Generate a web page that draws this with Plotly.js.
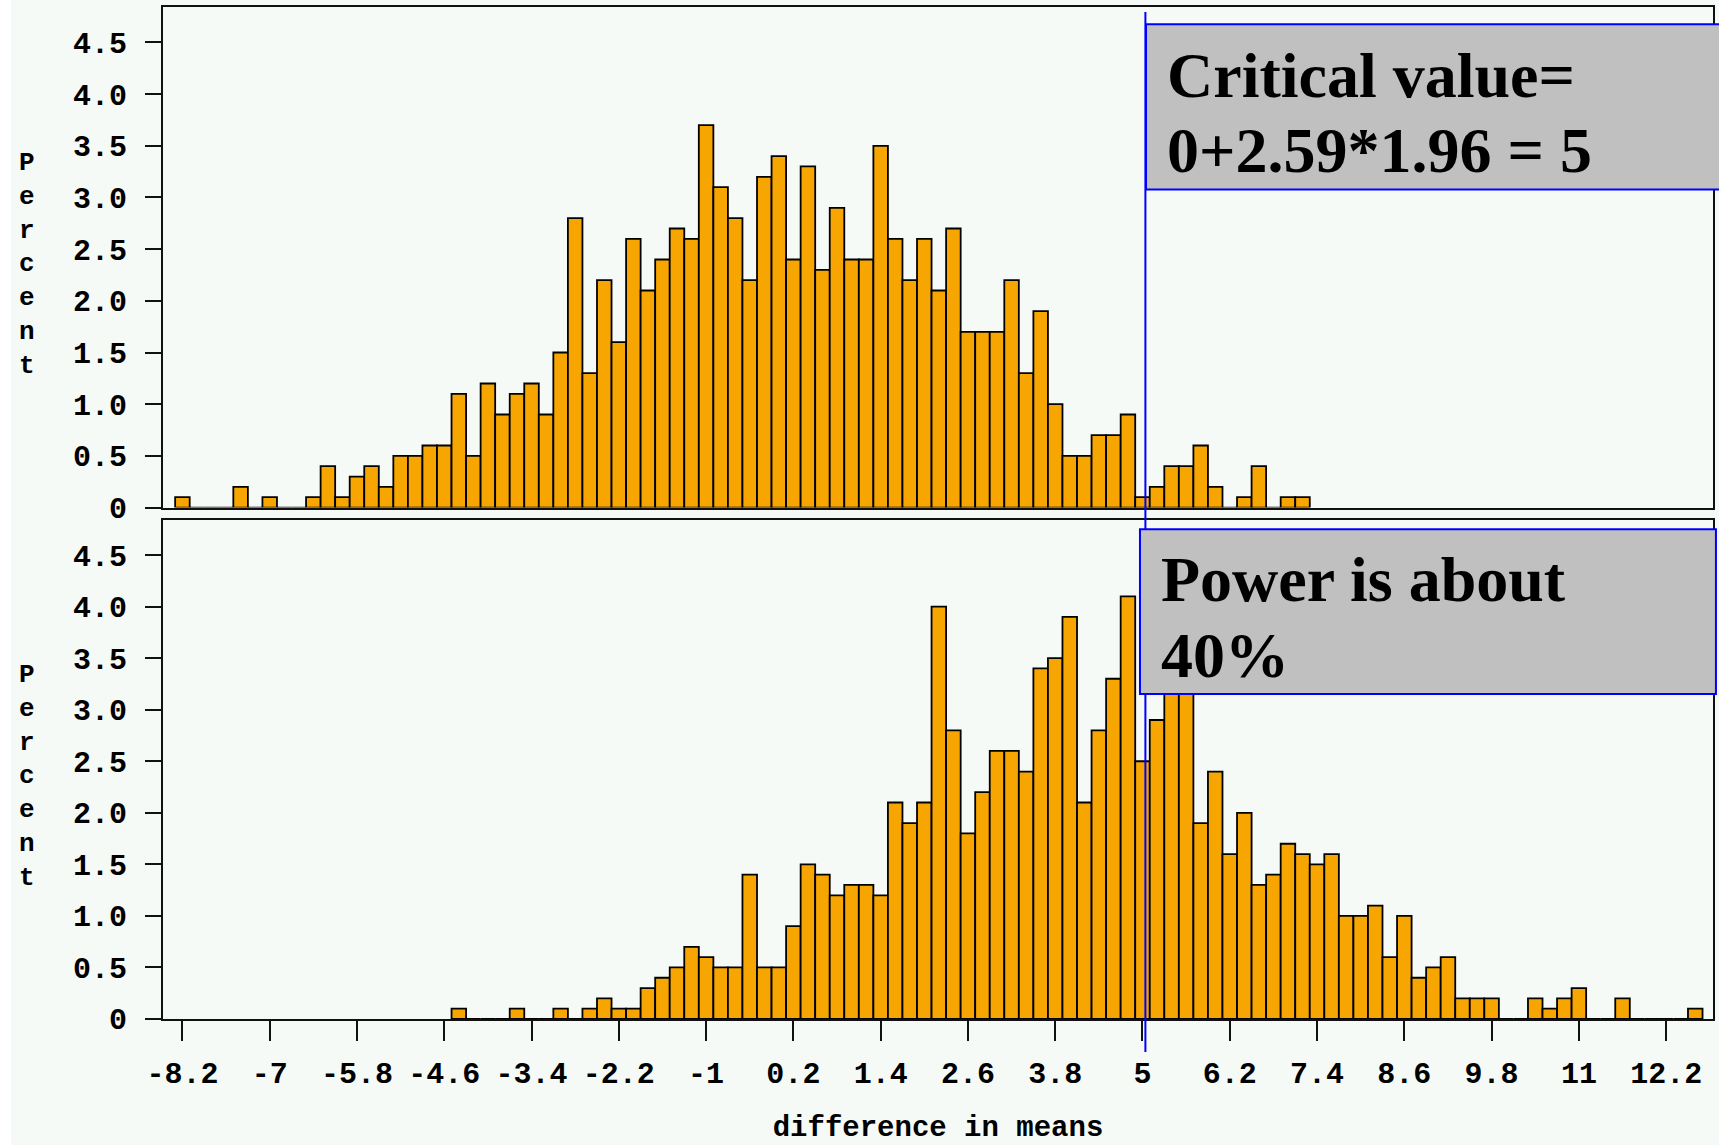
<!DOCTYPE html>
<html>
<head>
<meta charset="utf-8">
<script src="https://cdn.plot.ly/plotly-3.0.1.min.js"></script>
<style>
html, body { margin: 0; padding: 0; background: #F5FAF7; }
#chart { width: 1719px; height: 1145px; }
</style>
</head>
<body>
<div id="chart"></div>
<script>
// ---- Data (bin midpoints and percents) ----
const topMidpoints = [
  -8.2, -8.0, -7.8, -7.6, -7.4, -7.2, -7.0, -6.8, -6.6, -6.4,
  -6.2, -6.0, -5.8, -5.6, -5.4, -5.2, -5.0, -4.8, -4.6, -4.4,
  -4.2, -4.0, -3.8, -3.6, -3.4, -3.2, -3.0, -2.8, -2.6, -2.4,
  -2.2, -2.0, -1.8, -1.6, -1.4, -1.2, -1.0, -0.8, -0.6, -0.4,
  -0.2, 0.0, 0.2, 0.4, 0.6, 0.8, 1.0, 1.2, 1.4, 1.6,
  1.8, 2.0, 2.2, 2.4, 2.6, 2.8, 3.0, 3.2, 3.4, 3.6,
  3.8, 4.0, 4.2, 4.4, 4.6, 4.8, 5.0, 5.2, 5.4, 5.6,
  5.8, 6.0, 6.2, 6.4, 6.6, 6.8, 7.0, 7.2
];
const topPercent = [
  0.1, 0, 0, 0, 0.2, 0, 0.1, 0, 0, 0.1,
  0.4, 0.1, 0.3, 0.4, 0.2, 0.5, 0.5, 0.6, 0.6, 1.1,
  0.5, 1.2, 0.9, 1.1, 1.2, 0.9, 1.5, 2.8, 1.3, 2.2,
  1.6, 2.6, 2.1, 2.4, 2.7, 2.6, 3.7, 3.1, 2.8, 2.2,
  3.2, 3.4, 2.4, 3.3, 2.3, 2.9, 2.4, 2.4, 3.5, 2.6,
  2.2, 2.6, 2.1, 2.7, 1.7, 1.7, 1.7, 2.2, 1.3, 1.9,
  1.0, 0.5, 0.5, 0.7, 0.7, 0.9, 0.1, 0.2, 0.4, 0.4,
  0.6, 0.2, 0, 0.1, 0.4, 0, 0.1, 0.1
];
const bottomMidpoints = [
  -4.4, -4.2, -4.0, -3.8, -3.6, -3.4, -3.2, -3.0, -2.8, -2.6,
  -2.4, -2.2, -2.0, -1.8, -1.6, -1.4, -1.2, -1.0, -0.8, -0.6,
  -0.4, -0.2, 0.0, 0.2, 0.4, 0.6, 0.8, 1.0, 1.2, 1.4,
  1.6, 1.8, 2.0, 2.2, 2.4, 2.6, 2.8, 3.0, 3.2, 3.4,
  3.6, 3.8, 4.0, 4.2, 4.4, 4.6, 4.8, 5.0, 5.2, 5.4,
  5.6, 5.8, 6.0, 6.2, 6.4, 6.6, 6.8, 7.0, 7.2, 7.4,
  7.6, 7.8, 8.0, 8.2, 8.4, 8.6, 8.8, 9.0, 9.2, 9.4,
  9.6, 9.8, 10.0, 10.2, 10.4, 10.6, 10.8, 11.0, 11.2, 11.4,
  11.6, 11.8, 12.0, 12.2, 12.4, 12.6
];
const bottomPercent = [
  0.1, 0, 0, 0, 0.1, 0, 0, 0.1, 0, 0.1,
  0.2, 0.1, 0.1, 0.3, 0.4, 0.5, 0.7, 0.6, 0.5, 0.5,
  1.4, 0.5, 0.5, 0.9, 1.5, 1.4, 1.2, 1.3, 1.3, 1.2,
  2.1, 1.9, 2.1, 4.0, 2.8, 1.8, 2.2, 2.6, 2.6, 2.4,
  3.4, 3.5, 3.9, 2.1, 2.8, 3.3, 4.1, 2.5, 2.9, 3.3,
  3.3, 1.9, 2.4, 1.6, 2.0, 1.3, 1.4, 1.7, 1.6, 1.5,
  1.6, 1.0, 1.0, 1.1, 0.6, 1.0, 0.4, 0.5, 0.6, 0.2,
  0.2, 0.2, 0, 0, 0.2, 0.1, 0.2, 0.3, 0, 0,
  0.2, 0, 0, 0, 0, 0.1
];
const xTickVals = [-8.2, -7, -5.8, -4.6, -3.4, -2.2, -1, 0.2, 1.4, 2.6, 3.8, 5, 6.2, 7.4, 8.6, 9.8, 11, 12.2];
const xTickText = ["-8.2", "-7", "-5.8", "-4.6", "-3.4", "-2.2", "-1", "0.2", "1.4", "2.6", "3.8", "5", "6.2", "7.4", "8.6", "9.8", "11", "12.2"];
const yTickVals = [0, 0.5, 1.0, 1.5, 2.0, 2.5, 3.0, 3.5, 4.0, 4.5];
const yTickText = ["0", "0.5", "1.0", "1.5", "2.0", "2.5", "3.0", "3.5", "4.0", "4.5"];
const criticalValue = 5.04;
const xTitle = "difference in means";
const yTitle = "Percent";
const topBoxLines = ["Critical value=", "0+2.59*1.96 = 5"];
const bottomBoxLines = ["Power is about", "40%"];

// ---- Styling ----
const BG = "#F5FAF7";
const BAR = "#F7A500";
const INK = "#111111";
const MONO = '"Liberation Mono", "DejaVu Sans Mono", monospace';
const SERIF = '"Liberation Serif", "Times New Roman", serif';
const XRANGE = [-8.467, 12.844];
const YRANGE = [0, 4.843];

const tickFont = { family: MONO, size: 30, color: "#000", weight: "bold" };

const barStyle = { color: BAR, line: { color: "#000", width: 1.8 } };

const traces = [
  { type: "bar", x: topMidpoints, y: topPercent, width: 0.2, xaxis: "x", yaxis: "y",
    marker: barStyle, hoverinfo: "skip" },
  { type: "bar", x: bottomMidpoints, y: bottomPercent, width: 0.2, xaxis: "x2", yaxis: "y2",
    marker: barStyle, hoverinfo: "skip" }
];

const yAxisCommon = {
  range: YRANGE, tickvals: yTickVals, ticktext: yTickText,
  ticks: "outside", ticklen: 16, tickwidth: 2, tickcolor: INK,
  showline: true, mirror: true, linecolor: INK, linewidth: 2,
  showgrid: false, zeroline: false, tickfont: tickFont, ticklabelstandoff: 12,
  fixedrange: true
};
const xAxisCommon = {
  range: XRANGE, showline: true, mirror: true, linecolor: INK, linewidth: 2,
  showgrid: false, zeroline: false, fixedrange: true
};

function letters(s) { return s.split("").join("<br>"); }

const layout = {
  width: 1719, height: 1145,
  margin: { l: 163, r: 6, t: 7, b: 126, pad: 0 },
  paper_bgcolor: BG, plot_bgcolor: BG,
  showlegend: false,
  bargap: 0,
  font: { family: MONO, size: 28, color: "#000" },
  xaxis: Object.assign({}, xAxisCommon, { anchor: "y", showticklabels: false, ticks: "" }),
  yaxis: Object.assign({}, yAxisCommon, { domain: [0.5054, 1], anchor: "x" }),
  xaxis2: Object.assign({}, xAxisCommon, {
    anchor: "y2", tickvals: xTickVals, ticktext: xTickText,
    ticks: "outside", ticklen: 20, tickwidth: 2, tickcolor: INK,
    tickfont: tickFont, ticklabelstandoff: 6,
    title: { text: xTitle, font: { family: MONO, size: 29, color: "#000", weight: "bold" }, standoff: 32 }
  }),
  yaxis2: Object.assign({}, yAxisCommon, { domain: [0, 0.4934], anchor: "x2" }),
  shapes: [
    { type: "rect", xref: "paper", yref: "paper", x0: -0.11, x1: -0.0981, y0: -0.13, y1: 1.01,
      fillcolor: "#FFFFFF", line: { width: 0 }, layer: "below" },
    { type: "line", xref: "x2", yref: "paper", x0: criticalValue, x1: criticalValue,
      y0: -0.0326, y1: 0.9951, line: { color: "#0000FF", width: 2 } },
    { type: "rect", xref: "paper", yref: "paper", x0: 0.6342, x1: 1.01, y0: 0.8197, y1: 0.9829,
      fillcolor: "#C0C0C0", line: { color: "#0000FF", width: 2 } },
    { type: "rect", xref: "paper", yref: "paper", x0: 0.6303, x1: 1.0019, y0: 0.3211, y1: 0.4839,
      fillcolor: "#C0C0C0", line: { color: "#0000FF", width: 2 } }
  ],
  annotations: [
    { text: letters(yTitle), xref: "paper", yref: "paper", x: -0.0877, y: 0.7453,
      xanchor: "center", yanchor: "middle", showarrow: false,
      font: { family: MONO, size: 26, color: "#000", weight: "bold" } },
    { text: letters(yTitle), xref: "paper", yref: "paper", x: -0.0877, y: 0.2399,
      xanchor: "center", yanchor: "middle", showarrow: false,
      font: { family: MONO, size: 26, color: "#000", weight: "bold" } },
    { text: topBoxLines[0], xref: "paper", yref: "paper", x: 0.6465, y: 0.9327,
      xanchor: "left", yanchor: "middle", showarrow: false,
      font: { family: SERIF, size: 64, color: "#000", weight: "bold" } },
    { text: topBoxLines[1], xref: "paper", yref: "paper", x: 0.6465, y: 0.8586,
      xanchor: "left", yanchor: "middle", showarrow: false,
      font: { family: SERIF, size: 64, color: "#000", weight: "bold" } },
    { text: bottomBoxLines[0], xref: "paper", yref: "paper", x: 0.6426, y: 0.4347,
      xanchor: "left", yanchor: "middle", showarrow: false,
      font: { family: SERIF, size: 64, color: "#000", weight: "bold" } },
    { text: bottomBoxLines[1], xref: "paper", yref: "paper", x: 0.6426, y: 0.3590,
      xanchor: "left", yanchor: "middle", showarrow: false,
      font: { family: SERIF, size: 64, color: "#000", weight: "bold" } }
  ]
};

Plotly.newPlot("chart", traces, layout, { displayModeBar: false, staticPlot: true });
</script>
</body>
</html>
